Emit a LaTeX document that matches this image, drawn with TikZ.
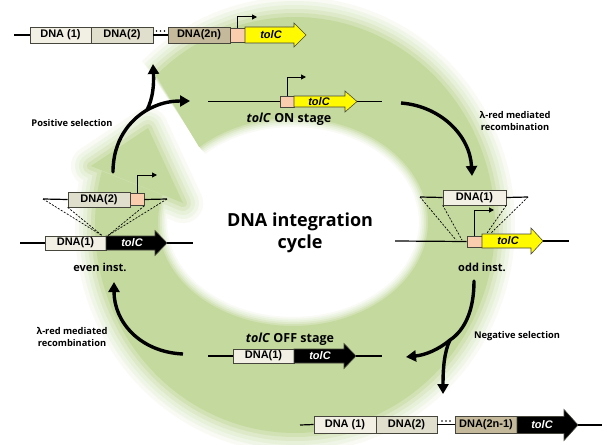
\documentclass[tikz,border=0pt]{standalone}
\usepackage{fontspec}
\setmainfont{Open Sans}
\newfontfamily\arialf{Liberation Sans}
\usetikzlibrary{arrows.meta,calc}
\definecolor{ringmain}{RGB}{196,217,158}
\definecolor{boxline}{RGB}{70,70,60}
\definecolor{dnaA}{RGB}{242,240,228}
\definecolor{dnaB}{RGB}{224,222,204}
\definecolor{dnaC}{RGB}{196,186,155}
\definecolor{pinkc}{RGB}{250,205,175}
\definecolor{yel}{RGB}{255,250,0}
\newcommand\genearrow[7]{%
  \filldraw[fill=#7,draw=boxline,line width=0.6pt,line join=miter]
    (#1,{#3-#4}) -- ({#2-#6},{#3-#4}) -- ({#2-#6},{#3-#5}) -- (#2,#3)
    -- ({#2-#6},{#3+#5}) -- ({#2-#6},{#3+#4}) -- (#1,{#3+#4}) -- cycle;}
\newcommand\ringshape[3]{%
  \fill[#1] plot[domain=226:555,samples=160,variable=\t]
      ({295+(200+#2)*cos(\t)},{225+(208+#2)*sin(\t)})
    -- plot[domain=555:226,samples=160,variable=\t]
      ({293+(135-#3)*cos(\t)},{222+(104-#3)*sin(\t)}) -- cycle;}
\begin{document}
\begin{tikzpicture}[x=1pt,y=-1pt,
  dnabox/.style={draw=boxline,line width=0.6pt,inner sep=0pt,
     font=\arialf\bfseries\fontsize{11}{12}\selectfont},
  pbox/.style={draw=boxline,line width=0.6pt,fill=pinkc,inner sep=0pt},
  dnaline/.style={line width=1.2pt,black},
  genelbl/.style={inner sep=0pt,font=\arialf\bfseries\itshape\fontsize{11}{12}\selectfont},
  stagelbl/.style={inner sep=0pt,font=\bfseries\fontsize{12.5}{14}\selectfont},
  instlbl/.style={inner sep=0pt,font=\bfseries\fontsize{11}{13}\selectfont},
  sidelbl/.style={inner sep=0pt,align=center,font=\bfseries\fontsize{9.3}{12.5}\selectfont},
  prom/.style={line width=1pt,-{Triangle[length=5pt,width=5pt]}},
  dsh/.style={line width=0.7pt,dash pattern=on 2pt off 1.5pt},
  cycline/.style={line width=3.4pt,line cap=round},
  cyc/.style={line width=3.4pt,-{Triangle[length=10pt,width=11pt]}}]
\useasboundingbox (0,0) rectangle (607,444);
\fill[white] (0,0) rectangle (607,444);
% ---------------- green cycle ring (soft edges) ----------------
\foreach \k/\c in {20/12,16/25,12/40,8/57,4/77}{
  \ringshape{ringmain!\c!white}{\k}{\k*0.45}
  \filldraw[ringmain!\c!white,line width=2*\k pt,line join=round] (91,166) -- (148,128) -- (183,203) -- cycle;
}
\ringshape{ringmain}{0}{0}
\fill[ringmain] (91,166) -- (148,128) -- (183,203) -- cycle;
% ---------------- top row ----------------
\coordinate (t0) at (14,35);
\node[dnabox,fill=dnaA,minimum width=61pt,minimum height=16pt] (tb1) at (60.5,35) {DNA (1)};
\node[dnabox,fill=dnaB,minimum width=62pt,minimum height=16pt] (tb2) at (122,35) {DNA(2)};
\node[dnabox,fill=dnaC,minimum width=62pt,minimum height=16pt] (tb3) at (199,35) {DNA(2n)};
\node[pbox,minimum width=15pt,minimum height=14pt] (tp) at (237.5,35) {};
\genearrow{245}{306}{35}{8}{12}{12}{yel}
\node[genelbl] (tg) at (271,35) {tolC};
\draw[dnaline] (t0) -- (tb1.west);
\draw[dnaline] (tb2.east) -- (tb3.west);
\fill (156.5,31) circle[radius=0.8pt] (160.5,31) circle[radius=0.8pt] (164.5,31) circle[radius=0.8pt];
\coordinate (tpa) at (257,17);
\draw[prom] (tp.north) |- (tpa);
% ---------------- tolC ON stage ----------------
\coordinate (on0) at (208,101.5);
\node[pbox,minimum width=14pt,minimum height=11pt] (onp) at (287,101.5) {};
\draw[dnaline] (on0) -- (onp.west);
\genearrow{294}{357}{101.5}{5.5}{10.5}{12}{yel}
\node[genelbl] (ong) at (319,101.5) {tolC};
\coordinate (on1) at (357,101.5);
\coordinate (on2) at (382,101.5);
\draw[dnaline] (on1) -- (on2);
\coordinate (onpa) at (306,77);
\draw[prom] (onp.north) |- (onpa);
\node[stagelbl] (onl) at (289,119) {\textit{tolC} ON stage};
% ---------------- even inst. ----------------
\coordinate (e0) at (20,243);
\node[dnabox,fill=dnaA,minimum width=61pt,minimum height=14pt] (e1) at (75.5,243) {DNA(1)};
\draw[dnaline] (e0) -- (e1.west);
\genearrow{106}{167}{243}{7}{12.5}{12}{black}
\node[genelbl,text=white] (eg) at (132,243) {tolC};
\coordinate (e2) at (167,243);
\coordinate (e3) at (193,243);
\draw[dnaline] (e2) -- (e3);
\coordinate (u0) at (43,199);
\node[dnabox,fill=dnaB,minimum width=62pt,minimum height=15pt] (u1) at (99,199.5) {DNA(2)};
\node[pbox,minimum width=14pt,minimum height=12pt] (up) at (137,199.5) {};
\coordinate (u2) at (167,199);
\draw[dnaline] (u0) -- (u1.west);
\draw[dnaline] (up.east) -- (u2);
\coordinate (upa) at (157,175);
\draw[prom] (up.north) |- (upa);
\coordinate (ej1) at (102,235.5);
\coordinate (ej2) at (108,235.5);
\draw[dsh] (u0) -- (ej1);
\draw[dsh] (u1.south west) -- (ej1);
\draw[dsh] (u2) -- (ej2);
\draw[dsh] (up.south east) -- (ej2);
\node[instlbl] (el) at (100,267) {even inst.};
% ---------------- odd inst. ----------------
\coordinate (o0) at (395,241);
\node[pbox,minimum width=15pt,minimum height=11pt] (op) at (474.5,241.5) {};
\draw[dnaline] (o0) -- (op.west);
\genearrow{482}{543}{241}{7}{13}{12}{yel}
\node[genelbl] (og) at (508,241) {tolC};
\coordinate (o1) at (543,241);
\coordinate (o2) at (569,241);
\draw[dnaline] (o1) -- (o2);
\coordinate (opa) at (494,210);
\draw[prom] (op.north) |- (opa);
\coordinate (v0) at (420,197);
\node[dnabox,fill=dnaA,minimum width=63pt,minimum height=15pt] (v1) at (474.5,197.5) {DNA(1)};
\coordinate (v2) at (528,197);
\draw[dnaline] (v0) -- (v1.west);
\draw[dnaline] (v1.east) -- (v2);
\coordinate (oj1) at (456,240);
\coordinate (oj1b) at (462,240);
\coordinate (oj2) at (491,233);
\coordinate (oj2b) at (487,233);
\draw[dsh] (v0) -- (oj1);
\draw[dsh] (v1.south west) -- (oj1b);
\draw[dsh] (v2) -- (oj2);
\draw[dsh] (v1.south east) -- (oj2b);
\node[instlbl] (ol) at (482,267) {odd inst.};
% ---------------- tolC OFF stage ----------------
\coordinate (f0) at (208,356);
\node[dnabox,fill=dnaA,minimum width=61pt,minimum height=14pt] (f1) at (263.5,356) {DNA(1)};
\draw[dnaline] (f0) -- (f1.west);
\genearrow{294}{356}{356}{7}{12.5}{12}{black}
\node[genelbl,text=white] (fg) at (320,356) {tolC};
\coordinate (f2) at (356,356);
\coordinate (f3) at (382,356);
\draw[dnaline] (f2) -- (f3);
\node[stagelbl] (fl) at (290,339) {\textit{tolC} OFF stage};
% ---------------- bottom row ----------------
\coordinate (b0) at (300,425);
\node[dnabox,fill=dnaA,minimum width=62pt,minimum height=17pt] (b1) at (345,424.5) {DNA (1)};
\node[dnabox,fill=dnaB,minimum width=61pt,minimum height=17pt] (b2) at (406.5,424.5) {DNA(2)};
\node[dnabox,fill=dnaC,minimum width=62pt,minimum height=17pt] (b3) at (486,424.5) {DNA(2n-1)};
\draw[dnaline] (b0) -- (b1.west);
\draw[dnaline] (b2.east) -- (b3.west);
\fill (442,421) circle[radius=0.8pt] (446,421) circle[radius=0.8pt] (450,421) circle[radius=0.8pt];
\genearrow{517}{578}{425}{8.5}{15.5}{14}{black}
\node[genelbl,text=white] (bg) at (542,425) {tolC};
\coordinate (b4) at (578,425);
\coordinate (b5) at (602,425);
\draw[dnaline] (b4) -- (b5);
% ---------------- centre text ----------------
\node[align=center,inner sep=0pt,font=\bfseries\fontsize{18}{22}\selectfont] (ctr) at (300,233) {DNA integration\\cycle};
% ---------------- side labels ----------------
\node[sidelbl] (ps) at (72,123) {Positive selection};
\node[sidelbl] (rr1) at (515,121) {λ-red mediated\\recombination};
\node[sidelbl] (rr2) at (72,337) {λ-red mediated\\recombination};
\node[sidelbl] (ns) at (517,336) {Negative selection};
% ---------------- cycle arrows ----------------
\coordinate (a1s) at (113,172);
\coordinate (a1f) at (147,110);
\coordinate (a1t) at (153,64);
\coordinate (a1r) at (190,101);
\draw[cycline] (a1s) .. controls (113,140) and (130,120) .. (a1f);
\draw[cyc] (a1f) .. controls (153,98) and (154,85) .. (a1t);
\draw[cyc] (a1f) .. controls (158,104) and (168,101) .. (a1r);
\coordinate (a2s) at (401,103);
\coordinate (a2t) at (472,176);
\draw[cyc] (a2s) .. controls (440,106) and (470,135) .. (a2t);
\coordinate (a3s) at (474,281);
\coordinate (a3f) at (450,340);
\coordinate (a3l) at (406,357);
\coordinate (a3d) at (443,394);
\draw[cycline] (a3s) .. controls (474,310) and (465,330) .. (a3f);
\draw[cyc] (a3f) .. controls (438,350) and (425,355) .. (a3l);
\draw[cyc] (a3f) .. controls (444,352) and (443,370) .. (a3d);
\coordinate (a4s) at (183,354);
\coordinate (a4t) at (114,282);
\draw[cyc] (a4s) .. controls (140,352) and (114,322) .. (a4t);
\end{tikzpicture}
\end{document}
